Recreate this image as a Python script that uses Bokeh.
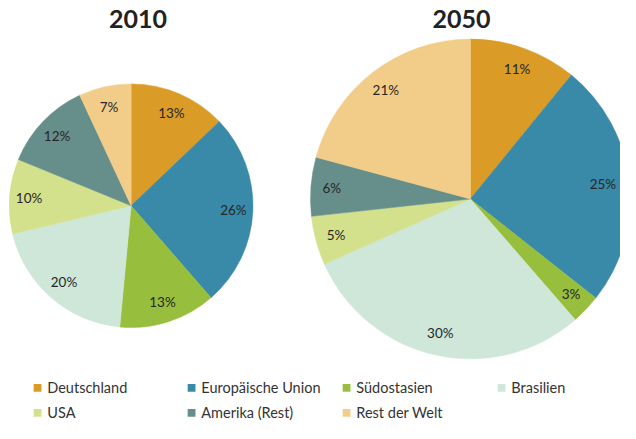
import numpy as np
from bokeh.plotting import figure
from bokeh.models import Range1d, ColumnDataSource
from bokeh.core.properties import value
from bokeh.embed import file_html
from bokeh.resources import INLINE

# ---- data ----
categories = ["Deutschland", "Europäische Union", "Südostasien", "Brasilien",
              "USA", "Amerika (Rest)", "Rest der Welt"]
colors = ["#DA9C26", "#3989A8", "#97BE3C", "#CEE7D8", "#D4E18C", "#668F8B", "#F2CD89"]
years = ["2010", "2050"]
values_2010 = [13, 26, 13, 20, 10, 12, 7]
values_2050 = [11, 25, 3, 30, 5, 6, 21]

# ---- layout (reference pixel coordinates, y measured downward) ----
W, H = 636, 439
M = 8
p = figure(width=W - 2 * M, height=H - 2 * M, output_backend="svg", toolbar_location=None,
           x_range=Range1d(0, W), y_range=Range1d(0, H),
           x_axis_type=None, y_axis_type=None, min_border=0)
p.grid.visible = False
p.outline_line_color = None
p.background_fill_color = "white"
p.border_fill_color = "white"

def Y(py):
    return H - py

pies = [
    dict(vals=values_2010, cx=134, cy=213, r=125, lab=0.84, tx=141, ty=19),
    dict(vals=values_2050, cx=482, cy=206, r=164, lab=0.87, tx=473, ty=19),
]

for year, pie in zip(years, pies):
    v = np.array(pie["vals"], dtype=float)
    frac = v / v.sum()
    cum = np.concatenate([[0], np.cumsum(frac)])
    start = np.pi / 2 - cum[:-1] * 2 * np.pi
    end = np.pi / 2 - cum[1:] * 2 * np.pi
    mid = (start + end) / 2
    src = ColumnDataSource(dict(start=start, end=end, color=colors))
    p.wedge(x=pie["cx"], y=Y(pie["cy"]), radius=pie["r"], start_angle="start",
            end_angle="end", direction="clock", fill_color="color",
            line_color="color", line_width=0.5, source=src)
    lx = pie["cx"] + pie["lab"] * pie["r"] * np.cos(mid)
    lx = np.minimum(lx, W - 18)  # keep labels inside the visible area
    ly = Y(pie["cy"]) + pie["lab"] * pie["r"] * np.sin(mid)
    labels = [f"{int(x)}%" for x in pie["vals"]]
    p.text(x=lx, y=ly, text=labels, text_font=value("Lato"), text_font_size="13.5px",
           text_color="#262626", text_align="center", text_baseline="middle")
    p.text(x=[pie["tx"]], y=[Y(pie["ty"])], text=[year], text_font=value("Lato"),
           text_font_size="25px", text_font_style="bold", text_color="#222222",
           text_align="center", text_baseline="middle")

# ---- legend ----
col_x = [34, 192, 351, 510]
row_y = [402, 428]
for i, (cat, col) in enumerate(zip(categories, colors)):
    cx = col_x[i % 4]
    cy = row_y[i // 4]
    p.rect(x=[cx + 4], y=[Y(cy)], width=8, height=8, fill_color=col, line_color=None)
    p.text(x=[cx + 14], y=[Y(cy)], text=[cat], text_font=value("Lato"),
           text_font_size="14.5px", text_color="#333333", text_align="left",
           text_baseline="middle")

open("out.html", "w").write(file_html(p, INLINE))
